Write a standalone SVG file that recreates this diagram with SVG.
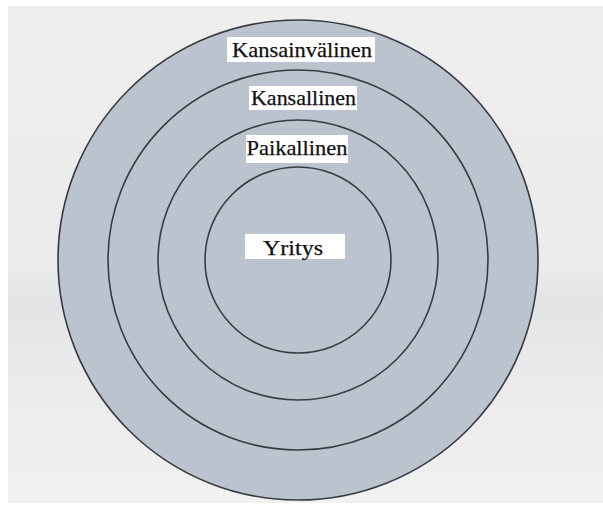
<svg xmlns="http://www.w3.org/2000/svg" width="603" height="506" viewBox="0 0 603 506">
  <style>
    .ring { fill: #bbc3ce; stroke: #383b40; stroke-width: 1.6; }
    .box { fill: #ffffff; }
    .lbl { font-family: "Liberation Serif", "Times New Roman", serif; font-size: 22px; fill: #111111; stroke: #111111; stroke-width: 0.25; text-anchor: middle; }
  </style>
  <defs>
    <linearGradient id="bg" x1="0" y1="0" x2="0" y2="1">
      <stop offset="0" stop-color="#eeeeee"/>
      <stop offset="0.52" stop-color="#ebebeb"/>
      <stop offset="0.6" stop-color="#e3e4e6"/>
      <stop offset="0.75" stop-color="#ebebed"/>
      <stop offset="1" stop-color="#f1f1f2"/>
    </linearGradient>
  </defs>
  <rect x="0" y="0" width="603" height="506" fill="#ffffff"/>
  <rect x="8" y="6" width="595" height="497" fill="url(#bg)"/>

  <g id="ring-kansainvalinen">
    <circle class="ring" cx="298" cy="260" r="240"/>
  </g>
  <g id="ring-kansallinen">
    <circle class="ring" cx="298" cy="260" r="190"/>
  </g>
  <g id="ring-paikallinen">
    <circle class="ring" cx="298" cy="260" r="140"/>
  </g>
  <g id="ring-yritys">
    <circle class="ring" cx="298" cy="260" r="93"/>
  </g>

  <g id="label-kansainvalinen">
    <rect class="box" x="227" y="37" width="148" height="25"/>
    <text class="lbl" x="302" y="57" textLength="140" lengthAdjust="spacingAndGlyphs">Kansainvälinen</text>
  </g>
  <g id="label-kansallinen">
    <rect class="box" x="249" y="86" width="108" height="24"/>
    <text class="lbl" x="303.5" y="105" textLength="105" lengthAdjust="spacingAndGlyphs">Kansallinen</text>
  </g>
  <g id="label-paikallinen">
    <rect class="box" x="246" y="135" width="102" height="28"/>
    <text class="lbl" x="297" y="155" textLength="101" lengthAdjust="spacingAndGlyphs">Paikallinen</text>
  </g>
  <g id="label-yritys">
    <rect class="box" x="245" y="234" width="100" height="25"/>
    <text class="lbl" x="293" y="255" textLength="60" lengthAdjust="spacingAndGlyphs">Yritys</text>
  </g>

  <g id="connectors"></g>
</svg>
